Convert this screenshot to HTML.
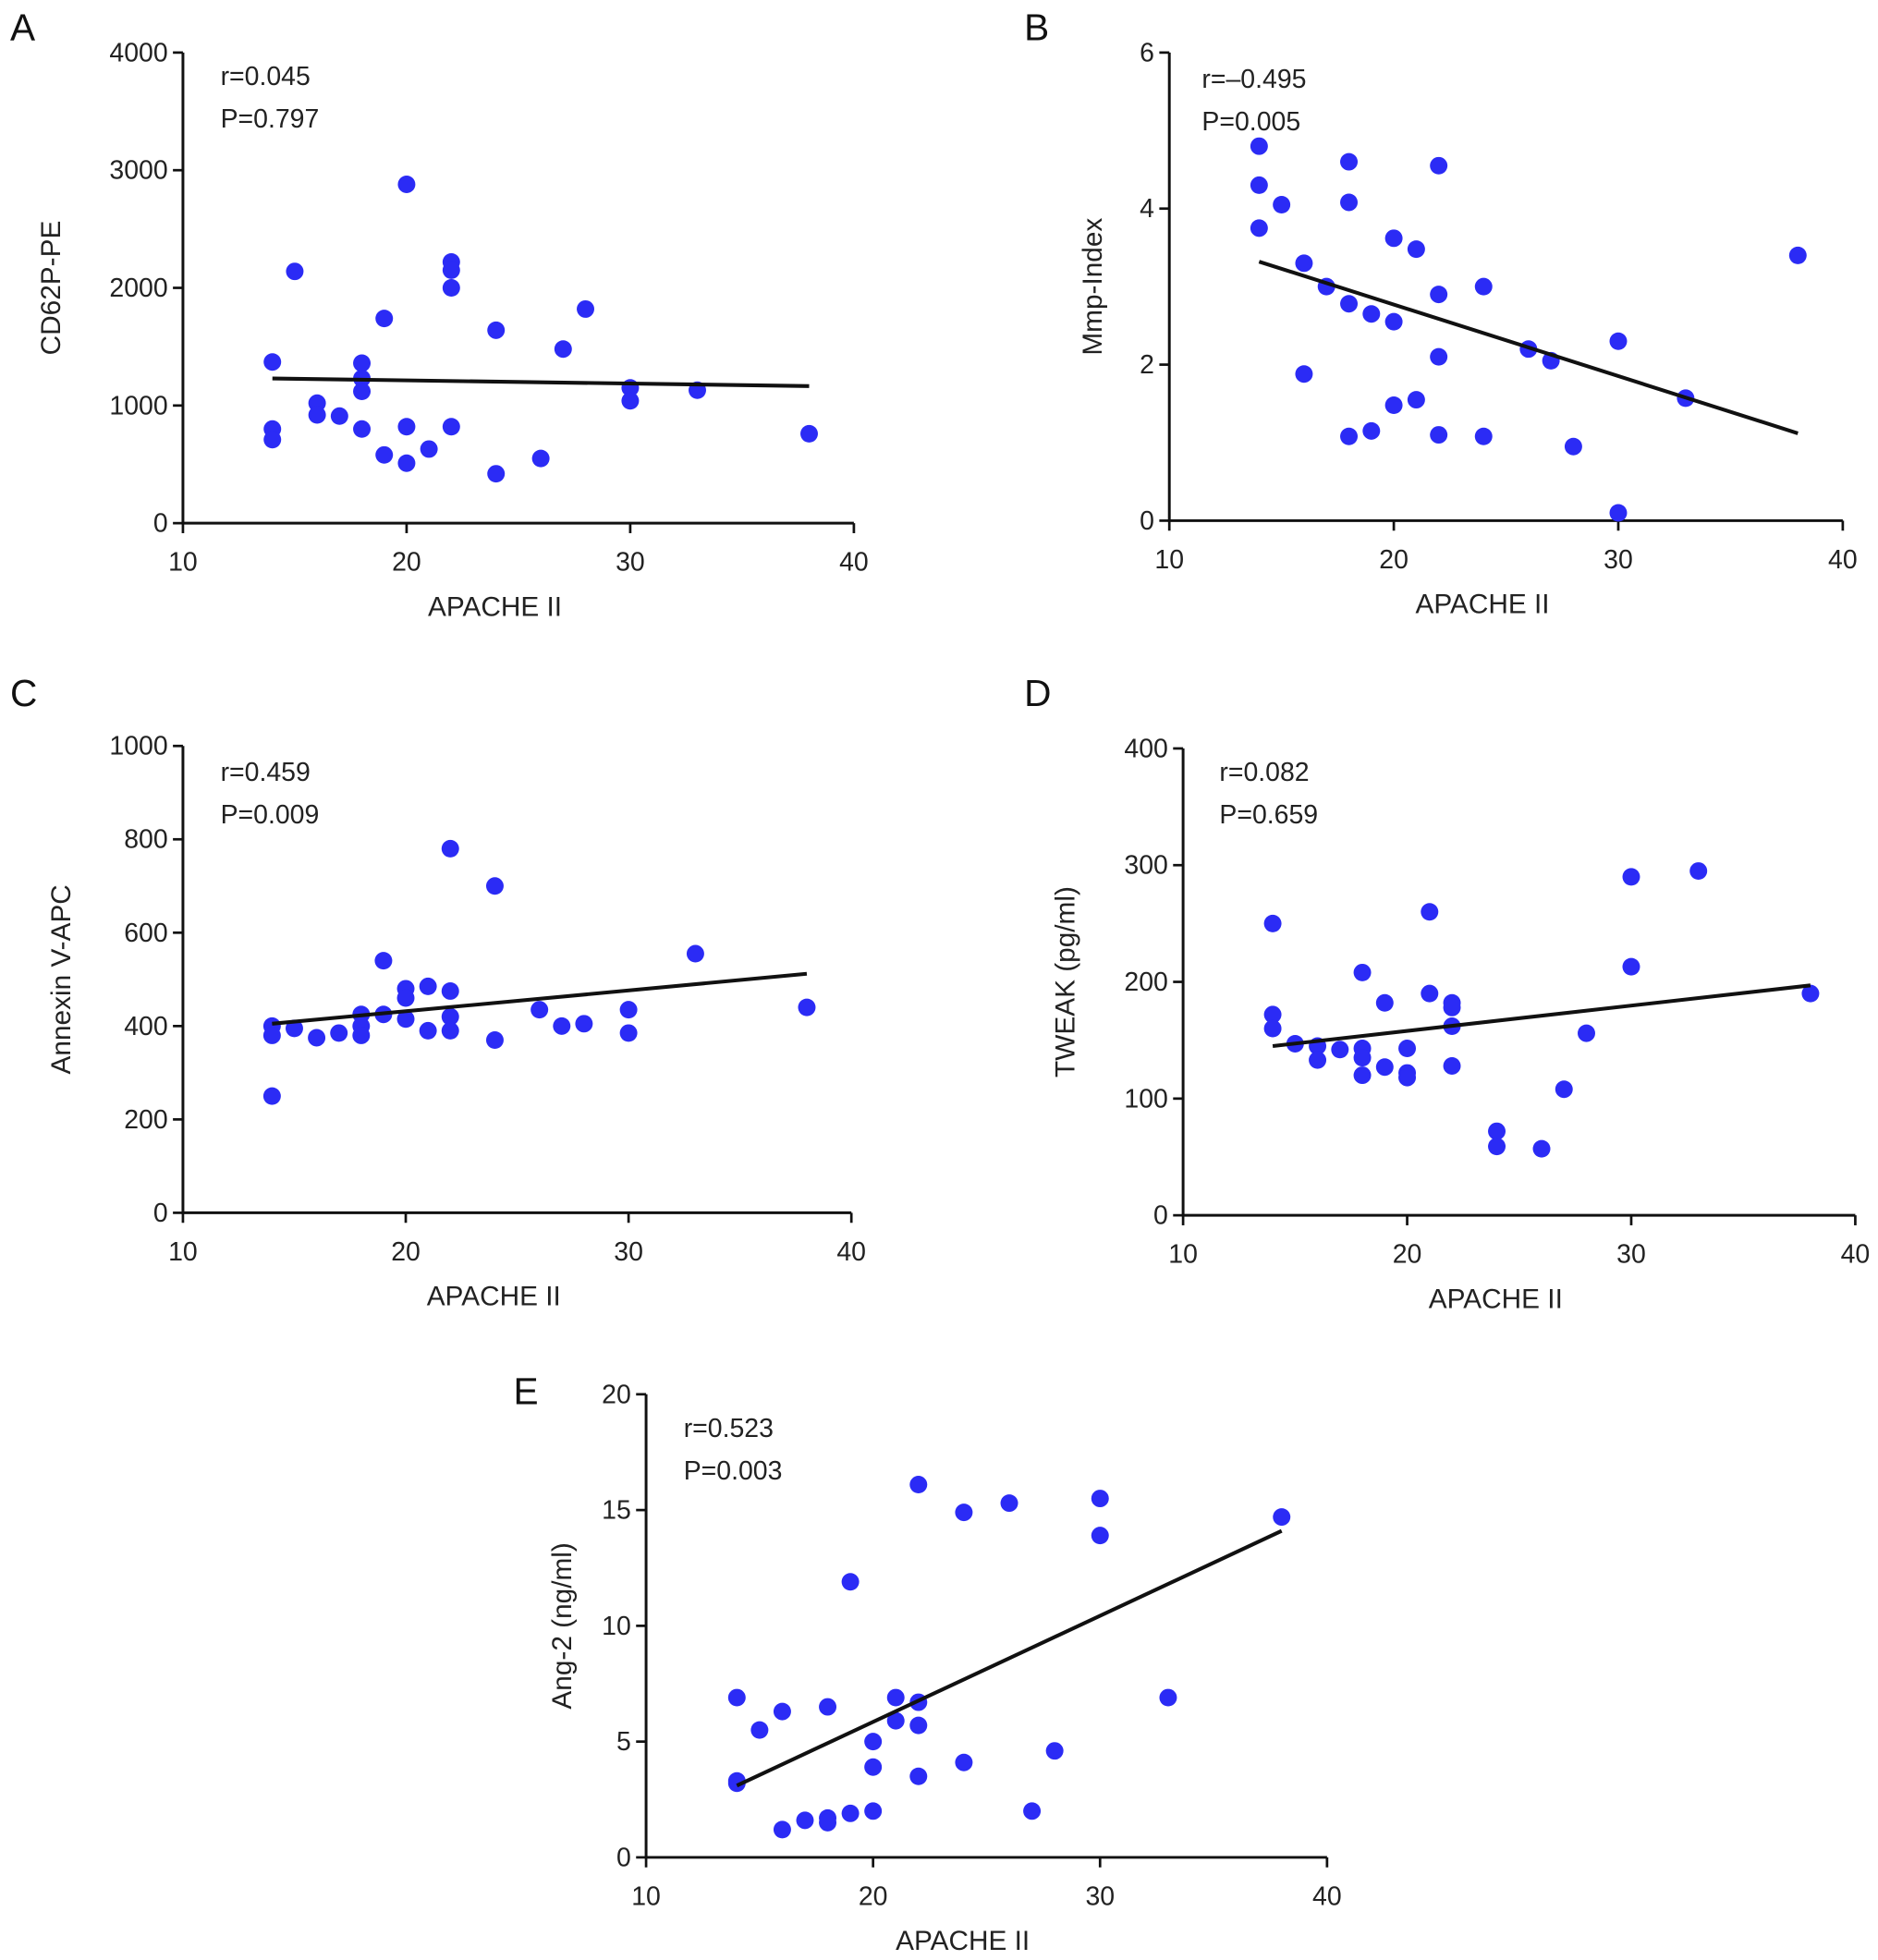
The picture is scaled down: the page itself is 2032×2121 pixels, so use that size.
<!DOCTYPE html>
<html><head><meta charset="utf-8"><style>
html,body{margin:0;padding:0;background:#fff;}
svg{display:block;font-family:"Liberation Sans",Arial,sans-serif;}
</style></head><body>
<svg id="chart" width="2032" height="2121" viewBox="0 0 1500 1566" xmlns="http://www.w3.org/2000/svg"></svg>
<script>
// Panel A data
const aX=[14,14,14,15,16,16,17,18,18,18,18,19,19,20,20,20,21,22,22,22,22,24,24,26,27,28,30,30,33,38];
const aY=[1370,800,710,2140,1020,920,910,1360,1230,1120,800,1740,580,2880,820,510,630,2220,2150,2000,820,1640,420,550,1480,1820,1150,1040,1130,760];
const aFit=[[14,1230],[38,1165]];
const aTicks=[0,1000,2000,3000,4000];
// Panel B data
const bX=[14,14,14,15,16,16,17,18,18,18,18,19,19,20,20,20,21,21,22,22,22,22,24,24,26,27,28,30,30,33,38];
const bY=[4.8,4.3,3.75,4.05,3.3,1.88,3.0,4.6,4.08,2.78,1.08,2.65,1.15,3.62,2.55,1.48,3.48,1.55,4.55,2.9,2.1,1.1,3.0,1.08,2.2,2.05,0.95,2.3,0.1,1.57,3.4];
const bFit=[[14,3.32],[38,1.12]];
const bTicks=[0,2,4,6];
// Panel C data
const cX=[14,14,14,15,16,17,18,18,18,19,19,20,20,20,21,21,22,22,22,22,24,24,26,27,28,30,30,33,38];
const cY=[400,380,250,395,375,385,425,400,380,540,425,480,460,415,485,390,780,475,420,390,700,370,435,400,405,435,385,555,440];
const cFit=[[14,405],[38,512]];
const cTicks=[0,200,400,600,800,1000];
// Panel D data
const dX=[14,14,14,15,16,16,17,18,18,18,18,19,19,20,20,20,21,21,22,22,22,22,24,24,26,27,28,30,30,33,38];
const dY=[250,172,160,147,145,133,142,208,143,135,120,182,127,143,122,118,260,190,182,178,162,128,72,59,57,108,156,290,213,295,190];
const dFit=[[14,145],[38,197]];
const dTicks=[0,100,200,300,400];
// Panel E data
const eX=[14,14,14,15,16,16,17,18,18,18,19,19,20,20,20,21,21,22,22,22,22,24,24,26,27,28,30,30,33,38];
const eY=[6.9,3.3,3.2,5.5,6.3,1.2,1.6,6.5,1.7,1.5,11.9,1.9,5.0,3.9,2.0,6.9,5.9,16.1,6.7,5.7,3.5,14.9,4.1,15.3,2.0,4.6,15.5,13.9,6.9,14.7];
const eFit=[[14,3.1],[38,14.1]];
const eTicks=[0,5,10,15,20];
const xTicks=[10,20,30,40];

const NS="http://www.w3.org/2000/svg";
const svg=document.getElementById('chart');
function mk(tag,attrs,parent,text){const e=document.createElementNS(NS,tag);for(const k in attrs)e.setAttribute(k,attrs[k]);if(text!=null)e.textContent=text;(parent||svg).appendChild(e);return e;}

const panels=[
 {id:'a',letter:'A',lx:8,ly:32,x0:146,x1:682,y0:418,y1:42,ymax:4000,xs:aX,ys:aY,fit:aFit,ticks:aTicks,title:'CD62P-PE',r:'r=0.045',p:'P=0.797',sx:176,sy:68,tx:48},
 {id:'b',letter:'B',lx:818,ly:32,x0:934,x1:1472,y0:416,y1:42,ymax:6,xs:bX,ys:bY,fit:bFit,ticks:bTicks,title:'Mmp-Index',r:'r=\u20130.495',p:'P=0.005',sx:960,sy:70,tx:880},
 {id:'c',letter:'C',lx:8,ly:564,x0:146,x1:680,y0:969,y1:596,ymax:1000,xs:cX,ys:cY,fit:cFit,ticks:cTicks,title:'Annexin V-APC',r:'r=0.459',p:'P=0.009',sx:176,sy:624,tx:56},
 {id:'d',letter:'D',lx:818,ly:564,x0:945,x1:1482,y0:971,y1:598,ymax:400,xs:dX,ys:dY,fit:dFit,ticks:dTicks,title:'TWEAK (pg/ml)',r:'r=0.082',p:'P=0.659',sx:974,sy:624,tx:858},
 {id:'e',letter:'E',lx:410,ly:1122,x0:516,x1:1060,y0:1484,y1:1114,ymax:20,xs:eX,ys:eY,fit:eFit,ticks:eTicks,title:'Ang-2 (ng/ml)',r:'r=0.523',p:'P=0.003',sx:546,sy:1148,tx:456}
];

panels.forEach(P=>{
 const g=mk('g',{});
 
 
 const X=v=>P.x0+(v-10)/30*(P.x1-P.x0);
 const Y=v=>P.y0-v/P.ymax*(P.y0-P.y1);
 const L=mk('text',{x:P.lx,y:P.ly,'font-size':30,fill:'#111'},g,P.letter);
 
 
 const ax=mk('path',{d:`M${P.x0} ${P.y1}V${P.y0}H${P.x1}`,stroke:'#111','stroke-width':2.2,fill:'none'},g);
 
 
 P.ticks.forEach(t=>{
  mk('line',{x1:P.x0-8,x2:P.x0,y1:Y(t),y2:Y(t),stroke:'#111','stroke-width':2},g);
  const tl=mk('text',{x:P.x0-12,y:Y(t)+7,'font-size':21,'text-anchor':'end',fill:'#222'},g,String(t));
  
  
 });
 xTicks.forEach(t=>{
  mk('line',{x1:X(t),x2:X(t),y1:P.y0,y2:P.y0+8,stroke:'#111','stroke-width':2},g);
  const tl=mk('text',{x:X(t),y:P.y0+38,'font-size':21,'text-anchor':'middle',fill:'#222'},g,String(t));
  
  
 });
 const xt=mk('text',{x:P.x0+0.465*(P.x1-P.x0),y:P.y0+73,'font-size':22,'text-anchor':'middle',fill:'#222'},g,'APACHE II');
 xt.setAttribute('y',P.y0+66+8);
 
 
 const yc=(P.y0+P.y1)/2;
 const yt=mk('text',{x:P.tx,y:yc,'font-size':22,'text-anchor':'middle',fill:'#222',transform:`rotate(-90 ${P.tx} ${yc})`},g,P.title);
 
 
 const rt=mk('text',{x:P.sx,y:P.sy,'font-size':21,fill:'#222'},g,P.r);
 
 
 const pt=mk('text',{x:P.sx,y:P.sy+34,'font-size':21,fill:'#222'},g,P.p);
 
 
 P.xs.forEach((v,i)=>{
  const c=mk('circle',{cx:X(v),cy:Y(P.ys[i]),r:7,fill:'#2b2bf5'},g);
  
  
 });
 const fl=mk('line',{x1:X(P.fit[0][0]),y1:Y(P.fit[0][1]),x2:X(P.fit[1][0]),y2:Y(P.fit[1][1]),stroke:'#111','stroke-width':3},g);
 
 
});
</script>
</body></html>
